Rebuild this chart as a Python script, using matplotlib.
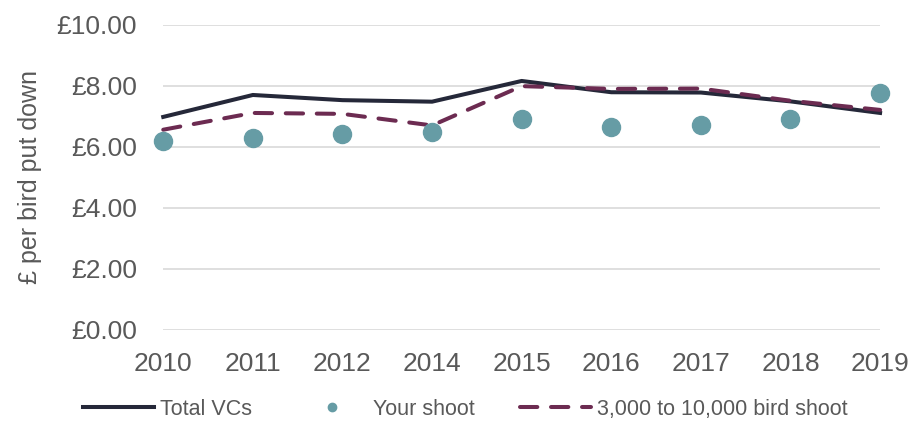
import matplotlib.pyplot as plt
import numpy as np

plt.rcParams['font.family'] = ['Liberation Sans', 'DejaVu Sans']

years = ['2010', '2011', '2012', '2014', '2015', '2016', '2017', '2018', '2019']
total_vcs = [6.98, 7.70, 7.53, 7.48, 8.16, 7.79, 7.78, 7.49, 7.11]
your_shoot = [6.20, 6.30, 6.41, 6.49, 6.90, 6.65, 6.70, 6.90, 7.75]
bird_shoot = [6.56, 7.11, 7.08, 6.70, 7.99, 7.90, 7.91, 7.51, 7.21]

txt = '#595959'
x = np.arange(len(years))

fig = plt.figure(figsize=(9.12, 4.22), dpi=100)
ax = fig.add_axes([0.179, 0.219, 0.786, 0.722])

ax.plot(x, total_vcs, color='#252839', lw=2.9, label='Total VCs', zorder=3,
        clip_on=False)
ax.plot(x, your_shoot, 'o', color='#669ca5', ms=13, label='Your shoot', zorder=4,
        clip_on=False)
ax.plot(x, bird_shoot, color='#6c2b51', lw=2.9, dashes=(4.3, 3.4),
        dash_capstyle='round', label='3,000 to 10,000 bird shoot', zorder=3,
        clip_on=False)

ax.set_xlim(0, len(years) - 1)
ax.set_ylim(0, 10)
ax.set_xticks(x)
ax.set_xticklabels(years)
ax.set_yticks(np.arange(0, 11, 2))
ax.set_yticklabels(['£%.2f' % v for v in np.arange(0, 11, 2)])
ax.grid(axis='y', color='#d9d9d9', lw=1.2)
ax.set_axisbelow(True)
for s in ax.spines.values():
    s.set_visible(False)
ax.tick_params(axis='both', length=0, labelsize=19, colors=txt)
ax.tick_params(axis='y', pad=19)
ax.tick_params(axis='x', pad=16)

ax.set_ylabel('£ per bird put down', fontsize=18, color=txt)
ax.yaxis.set_label_coords(-0.169, 0.5)

leg = fig.legend(loc='lower center', bbox_to_anchor=(0.51, -0.04), ncol=3,
                 frameon=False, fontsize=15.5, handlelength=3.3,
                 handletextpad=0.25, columnspacing=2.1)
for t in leg.get_texts():
    t.set_color(txt)
leg.legend_handles[1].set_markersize(6)

fig.savefig('out.png', dpi=100)
